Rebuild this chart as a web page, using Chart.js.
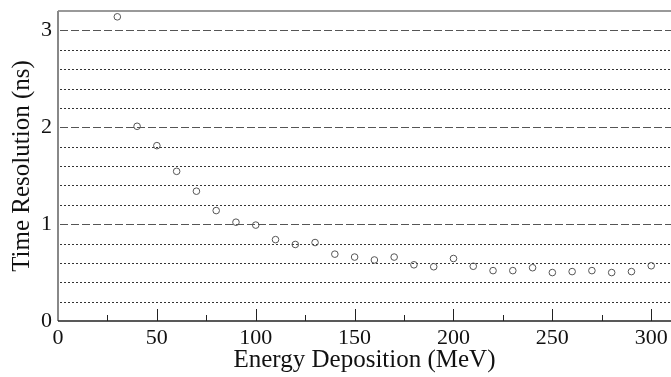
<!DOCTYPE html>
<html>
<head>
<meta charset="utf-8">
<script src="https://cdn.jsdelivr.net/npm/chart.js@4"></script>
<style>
html,body{margin:0;padding:0;background:#fff;}
#wrap{width:671px;height:377px;}
</style>
</head>
<body>
<div id="wrap"><canvas id="c" width="671" height="377"></canvas></div>
<script>
const energies = [30,40,50,60,70,80,90,100,110,120,130,140,150,160,170,180,190,200,210,220,230,240,250,260,270,280,290,300];
const resolution = [3.14,2.01,1.81,1.545,1.34,1.14,1.02,0.99,0.84,0.79,0.81,0.69,0.66,0.63,0.66,0.58,0.56,0.645,0.565,0.52,0.52,0.55,0.50,0.51,0.52,0.50,0.51,0.57];
const xMajorTicks = [0,50,100,150,200,250,300];
const xMinorTicks = [25,75,125,175,225,275];
const yLabelTicks = [0,1,2,3];

const FONT = "'Liberation Serif','Times New Roman',serif";

const decor = {
  id: 'decor',
  beforeDatasetsDraw(chart) {
    const {ctx, chartArea: a, scales: {x, y}} = chart;
    ctx.save();
    for (let i = 1; i <= 15; i++) {
      const v = i / 5;
      const py = Math.round(y.getPixelForValue(v)) + 0.5;
      const isInt = (i % 5 === 0);
      ctx.beginPath();
      ctx.lineWidth = 1;
      if (isInt) { ctx.setLineDash([8, 3]); ctx.strokeStyle = '#555'; }
      else { ctx.setLineDash([2, 2]); ctx.strokeStyle = '#333'; }
      ctx.moveTo(a.left + 2, py);
      ctx.lineTo(a.right, py);
      ctx.stroke();
    }
    ctx.setLineDash([]);
    ctx.strokeStyle = '#777';
    ctx.lineWidth = 1.5;
    ctx.beginPath();
    ctx.moveTo(a.left, a.top);
    ctx.lineTo(a.right, a.top);
    ctx.stroke();
    ctx.strokeStyle = '#888';
    ctx.lineWidth = 2;
    ctx.beginPath();
    ctx.moveTo(a.left, a.top);
    ctx.lineTo(a.left, a.bottom);
    ctx.stroke();
    ctx.strokeStyle = '#222';
    ctx.lineWidth = 1.5;
    ctx.beginPath();
    ctx.moveTo(a.left, a.bottom);
    ctx.lineTo(a.right, a.bottom);
    ctx.stroke();
    ctx.lineWidth = 1;
    ctx.strokeStyle = '#222';
    xMajorTicks.forEach(v => {
      if (v === 0) return;
      const px = Math.round(x.getPixelForValue(v)) + 0.5;
      ctx.beginPath(); ctx.moveTo(px, a.bottom); ctx.lineTo(px, a.bottom - 12); ctx.stroke();
    });
    xMinorTicks.forEach(v => {
      const px = Math.round(x.getPixelForValue(v)) + 0.5;
      ctx.beginPath(); ctx.moveTo(px, a.bottom); ctx.lineTo(px, a.bottom - 6); ctx.stroke();
    });
    ctx.restore();
  }
};

new Chart(document.getElementById('c'), {
  type: 'scatter',
  data: {
    datasets: [{
      data: energies.map((e, i) => ({x: e, y: resolution[i]})),
      pointStyle: 'circle',
      pointRadius: 3.3,
      borderColor: '#555',
      backgroundColor: 'rgba(0,0,0,0)',
      borderWidth: 1
    }]
  },
  options: {
    responsive: false,
    animation: false,
    events: [],
    layout: {autoPadding: false, padding: {top: 11, right: 0, left: 0, bottom: 0}},
    plugins: {legend: {display: false}, tooltip: {enabled: false}},
    scales: {
      x: {
        type: 'linear', min: 0, max: 310,
        grid: {display: false, drawTicks: false},
        border: {display: false},
        afterFit(s) { s.height = 56; s.paddingLeft = 0; s.paddingRight = 0; },
        afterBuildTicks(s) { s.ticks = xMajorTicks.map(v => ({value: v})); },
        ticks: {
          color: '#111', padding: 4, maxRotation: 0, autoSkip: false,
          font: {family: FONT, size: 22},
          callback: v => String(v)
        },
        title: {
          display: true, text: 'Energy Deposition (MeV)', color: '#111',
          font: {family: FONT, size: 25, lineHeight: 1.2},
          padding: {top: 0, bottom: 2}
        }
      },
      y: {
        type: 'linear', min: 0, max: 3.2,
        grid: {display: false, drawTicks: false},
        border: {display: false},
        afterFit(s) { s.width = 58; s.paddingTop = 0; s.paddingBottom = 0; },
        afterBuildTicks(s) { s.ticks = yLabelTicks.map(v => ({value: v})); },
        ticks: {
          color: '#111', padding: 6, autoSkip: false,
          font: {family: FONT, size: 22},
          callback: v => String(v)
        },
        title: {
          display: true, text: 'Time Resolution (ns)', color: '#111',
          font: {family: FONT, size: 25, lineHeight: 1.2},
          padding: {top: 7, bottom: 0}
        }
      }
    }
  },
  plugins: [decor]
});
</script>
</body>
</html>
